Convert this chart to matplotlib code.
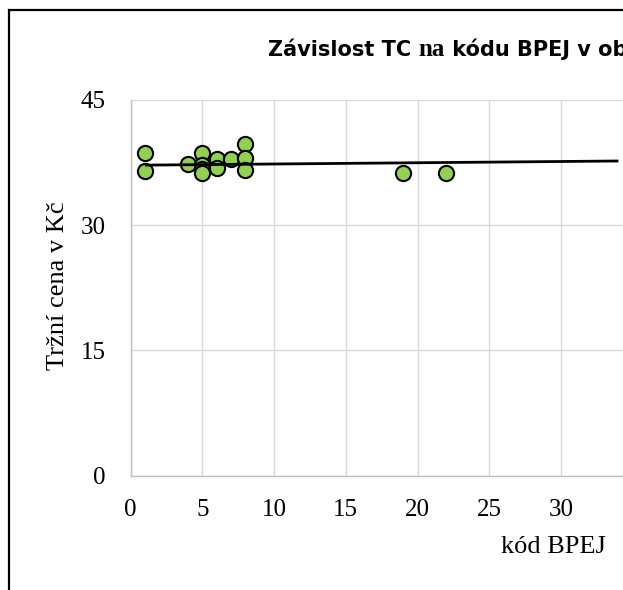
import matplotlib
matplotlib.use("Agg")
import matplotlib.pyplot as plt
from matplotlib.patches import Rectangle

# Data
kod_bpej = [1, 1, 4, 5, 5, 5, 5, 6, 6, 7, 8, 8, 8, 19, 22]
trzni_cena = [38.6, 36.5, 37.3, 38.7, 37.2, 36.7, 36.3, 37.9, 36.9, 37.9, 39.7, 38.0, 36.6, 36.2, 36.2]

# Linear trend line as seen in the picture (intercept, slope) and its x extent
trend_intercept = 37.18
trend_slope = 0.015
trend_x = [1, 34]

x_ticks = [0, 5, 10, 15, 20, 25, 30]
y_ticks = [0, 15, 30, 45]

title_parts = ["Závislost TC ", "na", " kódu BPEJ v obci"]
xlabel = "kód BPEJ"
ylabel = "Tržní cena v Kč"

W, H = 623, 590
fig = plt.figure(figsize=(W / 100, H / 100), dpi=100)

def fx(px):
    return px / W

def fy(py):
    return 1 - py / H

# outer chart frame (extends beyond the cropped image)
fig.patches.append(Rectangle((fx(8.5), fy(700)), fx(800), fy(9.5) - fy(700),
                             transform=fig.transFigure, fill=False,
                             edgecolor="black", linewidth=1.6, zorder=0))

left, right = 130.5, 130.5 + 35 * 14.35
top, bottom = 100, 475.5
ax = fig.add_axes([fx(left), fy(bottom), fx(right - left), fy(top) - fy(bottom)])

ax.set_xlim(0, 35)
ax.set_ylim(0, 45)
ax.set_xticks(x_ticks)
ax.set_yticks(y_ticks)
ax.grid(True, color="#d9d9d9", linewidth=1.0)
ax.set_axisbelow(True)
for s in ["top", "right"]:
    ax.spines[s].set_visible(False)
for s in ["left", "bottom"]:
    ax.spines[s].set_color("#bfbfbf")
    ax.spines[s].set_linewidth(1.0)
ax.tick_params(length=0, labelsize=18)
for lab in ax.get_xticklabels() + ax.get_yticklabels():
    lab.set_fontfamily("Liberation Serif")
ax.tick_params(axis="x", pad=17)
ax.tick_params(axis="y", pad=18)

ax.scatter(kod_bpej, trzni_cena, s=120, color="#92D050", edgecolor="black",
           linewidth=1.5, zorder=3, clip_on=False)
ty = [trend_intercept + trend_slope * x for x in trend_x]
ax.plot(trend_x, ty, color="black", linewidth=2.0, zorder=4, solid_capstyle="butt")

# title built of pieces ("na" appears in a serif face in the reference)
renderer = fig.canvas.get_renderer()
x0 = 268
fonts = [("DejaVu Sans", 15.0), ("Liberation Serif", 18.0), ("DejaVu Sans", 15.0)]
for part, (fam, size) in zip(title_parts, fonts):
    t = fig.text(fx(x0), fy(55.5), part, fontsize=size, fontweight="bold",
                 fontfamily=fam, ha="left", va="baseline")
    bb = t.get_window_extent(renderer)
    x0 += bb.width

fig.text(fx(553), fy(547), xlabel, fontsize=19, fontfamily="Liberation Serif",
         ha="center", va="center")
fig.text(fx(58), fy(286), ylabel, fontsize=19, fontfamily="Liberation Serif",
         ha="center", va="center", rotation=90)

fig.savefig("out.png", dpi=100)
